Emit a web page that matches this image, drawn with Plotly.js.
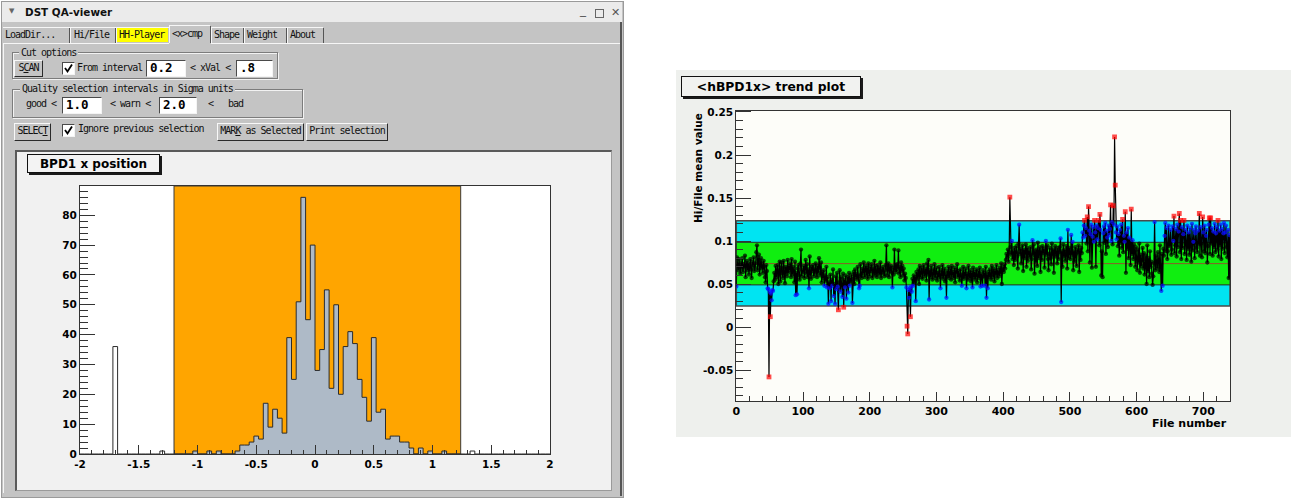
<!DOCTYPE html>
<html><head><meta charset="utf-8">
<script src="https://cdn.plot.ly/plotly-3.0.1.min.js"></script>
<style>
body{margin:0;width:1291px;height:499px;overflow:hidden;background:#fff;position:relative;}
.a{position:absolute;}
.t{position:absolute;font-family:'DejaVu Sans Mono',monospace;font-size:10px;letter-spacing:-1px;color:#111;white-space:nowrap;line-height:12px;}
.btn{position:absolute;background:#c4c4c4;border:1px solid;border-color:#f8f8f8 #2a2a2a #2a2a2a #f8f8f8;box-sizing:border-box;font-family:'DejaVu Sans Mono',monospace;font-size:10px;letter-spacing:-1px;text-align:center;line-height:14px;color:#111;white-space:nowrap;}
.inp{position:absolute;background:#fff;border:1px solid;border-color:#4a4a4a #f4f4f4 #f4f4f4 #4a4a4a;box-sizing:border-box;font-family:'DejaVu Sans Mono',monospace;font-size:12.5px;font-weight:bold;line-height:14px;padding-left:3px;color:#000;}
.chk{position:absolute;width:11px;height:11px;background:#fff;border:1px solid;border-color:#4a4a4a #f4f4f4 #f4f4f4 #4a4a4a;}
.grp{position:absolute;border:1px solid #7c7c7c;box-shadow:inset 1px 1px 0 #f2f2f2,1px 1px 0 #f2f2f2;box-sizing:border-box;}
.sep{position:absolute;width:1px;background:#555;}
.lt{position:absolute;background:#f6f6f6;}
#plot{position:absolute;left:0;top:0;width:1291px;height:499px;}
</style></head>
<body>
<!-- window chrome -->
<div class="a" style="left:1px;top:1px;width:621px;height:495px;background:#c4c4c4;border:1px solid #9a9a9a;"></div>
<div class="a" style="left:2px;top:2px;width:620px;height:20px;background:#ebebeb;"></div>
<div class="a" style="left:9px;top:7px;font:7px 'DejaVu Sans';color:#666;">▼</div>
<div class="a" style="left:25px;top:6px;font:bold 10.4px 'DejaVu Sans';color:#111;white-space:nowrap;">DST QA-viewer</div>
<div class="a" style="left:580px;top:3px;font:12px 'DejaVu Sans';color:#555;">_</div>
<div class="a" style="left:595px;top:9px;width:7px;height:7px;border:1px solid #666;"></div>
<div class="a" style="left:611px;top:6px;font:11px 'DejaVu Sans';color:#555;">✕</div>
<div class="a" style="left:620px;top:22px;width:2px;height:474px;background:#555;"></div>

<!-- tabs -->
<div class="lt" style="left:3px;top:43px;width:166px;height:1px;"></div>
<div class="lt" style="left:211px;top:43px;width:409px;height:1px;"></div>
<div class="lt" style="left:3px;top:27px;width:166px;height:1px;"></div>
<div class="lt" style="left:169px;top:25px;width:41px;height:1px;"></div>
<div class="lt" style="left:169px;top:25px;width:1px;height:18px;"></div>
<div class="lt" style="left:211px;top:27px;width:112px;height:1px;"></div>
<div class="sep" style="left:69px;top:28px;height:15px;"></div><div class="lt" style="left:70px;top:28px;width:1px;height:15px;"></div>
<div class="sep" style="left:115px;top:28px;height:15px;"></div><div class="lt" style="left:116px;top:28px;width:1px;height:15px;"></div>
<div class="sep" style="left:210px;top:26px;height:17px;"></div><div class="lt" style="left:211px;top:28px;width:1px;height:15px;"></div>
<div class="sep" style="left:243px;top:28px;height:15px;"></div><div class="lt" style="left:244px;top:28px;width:1px;height:15px;"></div>
<div class="sep" style="left:286px;top:28px;height:15px;"></div><div class="lt" style="left:287px;top:28px;width:1px;height:15px;"></div>
<div class="sep" style="left:323px;top:28px;height:15px;"></div>
<div class="a" style="left:117px;top:28px;width:51px;height:14px;background:#ffff00;"></div>
<div class="t" style="left:5px;top:29px;">LoadDir...</div>
<div class="t" style="left:74px;top:29px;">Hi/File</div>
<div class="t" style="left:119px;top:29px;">HH-Player</div>
<div class="t" style="left:172px;top:28px;">&lt;x&gt;cmp</div>
<div class="t" style="left:214px;top:29px;">Shape</div>
<div class="t" style="left:247px;top:29px;">Weight</div>
<div class="t" style="left:290px;top:29px;">About</div>
<div class="lt" style="left:3px;top:43px;width:1px;height:450px;"></div>

<!-- cut options -->
<div class="grp" style="left:12px;top:52px;width:266px;height:27px;"></div>
<div class="t" style="left:19px;top:47px;background:#c4c4c4;padding:0 2px;">Cut options</div>
<div class="btn" style="left:14px;top:60px;width:29px;height:17px;">S<u>C</u>AN</div>
<div class="chk" style="left:62px;top:62px;"><svg width="11" height="11" style="position:absolute;left:0;top:0"><path d="M2 5 L4.5 8.5 L9 1.5" stroke="#000" stroke-width="1.8" fill="none"/></svg></div>
<div class="t" style="left:77px;top:62px;">From  interval</div>
<div class="inp" style="left:146px;top:60px;width:40px;height:17px;">0.2</div>
<div class="t" style="left:190px;top:62px;">&lt; xVal &lt;</div>
<div class="inp" style="left:236px;top:60px;width:37px;height:17px;">.8</div>

<!-- quality -->
<div class="grp" style="left:12px;top:89px;width:291px;height:29px;"></div>
<div class="t" style="left:20px;top:83px;background:#c4c4c4;padding:0 2px;">Quality selection intervals in Sigma units</div>
<div class="t" style="left:26px;top:98px;">good &lt;</div>
<div class="inp" style="left:62px;top:97px;width:40px;height:17px;">1.0</div>
<div class="t" style="left:110px;top:98px;">&lt; warn &lt;</div>
<div class="inp" style="left:159px;top:97px;width:38px;height:17px;">2.0</div>
<div class="t" style="left:208px;top:98px;">&lt;</div>
<div class="t" style="left:228px;top:98px;">bad</div>

<!-- row 3 -->
<div class="btn" style="left:14px;top:123px;width:37px;height:18px;">SELEC<u>T</u></div>
<div class="chk" style="left:62px;top:124px;"><svg width="11" height="11" style="position:absolute;left:0;top:0"><path d="M2 5 L4.5 8.5 L9 1.5" stroke="#000" stroke-width="1.8" fill="none"/></svg></div>
<div class="t" style="left:78px;top:123px;">Ignore previous selection</div>
<div class="btn" style="left:217px;top:123px;width:87px;height:18px;">MAR<u>K</u> as Selected</div>
<div class="btn" style="left:306px;top:123px;width:82px;height:18px;">Print selection</div>

<!-- canvas -->
<div class="a" style="left:15px;top:150px;width:594px;height:338px;background:#f1f1f1;border-top:2px solid #5a5a5a;border-left:2px solid #5a5a5a;border-right:1px solid #9a9a9a;border-bottom:1px solid #9a9a9a;"></div>

<!-- right panel -->
<div class="a" style="left:676px;top:70px;width:615px;height:367px;background:#eef0ed;"></div>

<div id="plot"></div>
<script>
// ---------- histogram: BPD1 x position ----------
const histMin = -2;
const binWidth = 0.04;
const histCounts = [
  0,0,0,0,0,0,0,36,0,0,
  0,0,0,0,0,0,0,1,0,0,
  0,0,0,0,1,0,0,1,0,1,
  0,0,0,1,3,3,4,6,5,17,
  9,15,12,7,39,25,51,86,45,70,
  28,35,55,22,50,20,36,41,37,25,
  19,11,39,14,15,5,6,6,4,4,
  2,0,2,0,1,0,0,1,0,0,
  0,0,0,1,0,0,0,0,0,0,
  0,0,0,0,0,0,0,0,0,0
];
const cutRange = [-1.2, 1.24];
const histXTicks = [-2,-1.5,-1,-0.5,0,0.5,1,1.5,2];
const histXTickText = ['-2','-1.5','-1','-0.5','0','0.5','1','1.5','2'];
const histYTicks = [0,10,20,30,40,50,60,70,80];

// ---------- trend plot: <hBPD1x> mean per file ----------
const fileMeans = [
 .047,.081,.072,.066,.079,.070,.062,.075,.068,.080,.064,.073,.069,.083,.058,.071,.077,.066,.074,.061,
 .070,.079,.067,.057,.076,.072,.081,.065,.069,.074,.087,.095,.066,.078,.084,.061,.075,.080,.068,.073,
 .063,.077,.070,.058,.052,.072,.065,.045,.044,-.058,.041,.012,.039,.031,.043,.042,.053,.063,.055,.071,
 .058,.066,.072,.050,.061,.076,.053,.069,.075,.062,.057,.077,.064,.051,.070,.068,.059,.078,.063,.071,
 .066,.074,.058,.079,.061,.070,.065,.052,.076,.037,.063,.038,.068,.072,.060,.055,.074,.090,.059,.066,
 .064,.071,.057,.069,.078,.062,.073,.058,.067,.045,.082,.063,.056,.070,.065,.072,.059,.068,.062,.074,
 .066,.058,.071,.063,.080,.069,.060,.075,.052,.064,.057,.066,.048,.060,.054,.070,.046,.058,.027,.052,
 .045,.061,.030,.055,.048,.067,.036,.050,.027,.059,.044,.063,.047,.020,.052,.066,.041,.058,.049,.035,
 .062,.023,.055,.046,.060,.033,.051,.058,.040,.063,.048,.057,.053,.061,.028,.056,.064,.050,.067,.058,
 .062,.055,.070,.059,.045,.048,.073,.061,.057,.068,.063,.075,.058,.066,.071,.060,.069,.056,.074,.064,
 .059,.070,.065,.073,.057,.068,.062,.077,.060,.071,.066,.058,.072,.063,.069,.061,.075,.057,.067,.064,
 .070,.062,.059,.066,.072,.095,.060,.068,.074,.058,.070,.065,.071,.063,.046,.069,.061,.090,.066,.072,
 .064,.073,.068,.089,.062,.070,.058,.075,.065,.071,.060,.068,.054,.062,.057,.046,.001,-.008,.043,.034,
 .045,.012,.047,.041,.056,.048,.060,.052,.058,.030,.064,.055,.061,.067,.050,.071,.058,.063,.069,.056,
 .065,.072,.059,.063,.068,.054,.074,.061,.078,.032,.066,.058,.071,.062,.055,.067,.060,.073,.057,.064,
 .069,.054,.063,.058,.070,.061,.045,.066,.059,.072,.056,.063,.068,.053,.061,.034,.065,.059,.070,.057,
 .063,.068,.055,.071,.060,.064,.057,.069,.052,.066,.062,.073,.058,.065,.060,.054,.067,.061,.048,.059,
 .070,.056,.064,.059,.068,.045,.062,.055,.071,.060,.057,.066,.053,.063,.046,.069,.058,.064,.055,.061,
 .067,.052,.060,.065,.057,.069,.047,.062,.058,.048,.066,.059,.063,.048,.070,.034,.061,.045,.064,.058,
 .067,.060,.055,.071,.062,.058,.068,.053,.065,.061,.072,.057,.066,.063,.059,.069,.062,.074,.050,.066,
 .070,.064,.073,.068,.078,.085,.081,.090,.076,.087,.151,.093,.084,.100,.079,.088,.072,.092,.078,.087,
 .094,.082,.068,.097,.119,.085,.091,.074,.088,.095,.065,.090,.080,.087,.096,.070,.092,.077,.089,.086,
 .081,.093,.067,.079,.101,.084,.096,.062,.088,.076,.090,.071,.098,.080,.087,.093,.064,.089,.078,.094,
 .086,.091,.069,.088,.100,.084,.095,.079,.066,.085,.092,.080,.073,.097,.083,.090,.063,.088,.094,.082,
 .089,.074,.092,.079,.087,.093,.103,.029,.088,.070,.096,.082,.090,.077,.087,.094,.068,.113,.080,.092,
 .086,.079,.107,.084,.099,.066,.088,.076,.093,.085,.071,.090,.087,.095,.064,.089,.078,.092,.086,.110,
 .104,.118,.124,.106,.115,.097,.128,.088,.140,.112,.075,.108,.119,.069,.105,.116,.099,.124,.110,.070,
 .118,.102,.115,.124,.095,.131,.113,.060,.088,.058,.109,.117,.098,.121,.085,.112,.104,.093,.118,.107,
 .114,.142,.100,.122,.096,.141,.119,.221,.165,.110,.102,.117,.094,.108,.083,.113,.098,.119,.092,.125,
 .087,.106,.099,.134,.063,.110,.091,.115,.080,.104,.094,.072,.137,.085,.101,.079,.096,.088,.070,.093,
 .081,.066,.090,.075,.097,.063,.084,.071,.078,.092,.068,.086,.061,.079,.083,.050,.095,.065,.080,.058,
 .088,.070,.076,.062,.049,.059,.074,.122,.066,.083,.071,.068,.087,.077,.064,.095,.072,.042,.085,.048,
 .091,.083,.106,.121,.088,.115,.079,.088,.118,.094,.096,.113,.084,.090,.117,.100,.129,.086,.095,.114,
 .082,.119,.093,.111,.132,.087,.124,.079,.116,.092,.108,.124,.085,.113,.097,.078,.118,.091,.110,.084,
 .115,.094,.076,.120,.089,.099,.113,.080,.109,.117,.092,.087,.112,.096,.132,.083,.116,.097,.081,.128,
 .110,.088,.118,.086,.106,.113,.075,.094,.119,.127,.085,.127,.097,.115,.083,.111,.093,.120,.087,.109,
 .116,.090,.124,.082,.112,.095,.119,.079,.114,.091,.109,.121,.086,.110,.118,.093,.081,.113,.057,.107,
 .058
];
const goodBand = [0.049, 0.0985];
const warnBand = [0.0245, 0.1235];
const bandMean = 0.0737;
const trendXTicks = [0,100,200,300,400,500,600,700];
const trendYTicks = [-0.05,0,0.05,0.1,0.15,0.2,0.25];
const trendYTickText = ['-0.05','0','0.05','0.1','0.15','0.2','0.25'];

// ---------- build ----------
const W = 1291, H = 499;
const px = x => x / W, py = y => 1 - y / H;

const binCenters = histCounts.map((c, i) => histMin + binWidth * (i + 0.5));
const barColors = binCenters.map(x => (x > cutRange[0] && x < cutRange[1]) ? '#aebac7' : '#ffffff');
const stepX = [histMin], stepY = [0];
histCounts.forEach((c, i) => { stepX.push(histMin + binWidth * i); stepY.push(c); });
stepX.push(histMin + binWidth * histCounts.length); stepY.push(0);

const fileNumbers = fileMeans.map((v, i) => i);
const ptColor = fileMeans.map(v => (v >= goodBand[0] && v <= goodBand[1]) ? '#000000'
  : (v >= warnBand[0] && v <= warnBand[1]) ? '#0a0aff' : '#ff0000');
const ptSymbol = ptColor.map(c => c === '#ff0000' ? 'square' : 'circle');
const ptSize = ptColor.map(c => c === '#ff0000' ? 4.8 : 4.3);

const tickFontL = {family: 'DejaVu Sans', size: 10.5, weight: 'bold', color: '#000'};
const tickFontR = {family: 'DejaVu Sans', size: 10.5, weight: 'bold', color: '#000'};

const traces = [
  {type: 'bar', x: binCenters, y: histCounts, width: binWidth, xaxis: 'x', yaxis: 'y',
   marker: {color: barColors, line: {width: 0}}, hoverinfo: 'skip', showlegend: false},
  {type: 'scatter', mode: 'lines', x: stepX, y: stepY, xaxis: 'x', yaxis: 'y',
   line: {color: '#2b2b2b', width: 1, shape: 'hv'}, hoverinfo: 'skip', showlegend: false},
  {type: 'scatter', mode: 'lines+markers', x: fileNumbers, y: fileMeans, xaxis: 'x2', yaxis: 'y2',
   line: {color: '#000', width: 1.2},
   marker: {color: ptColor, symbol: ptSymbol, size: ptSize, line: {width: 0}},
   hoverinfo: 'skip', showlegend: false}
];

const axBase = {showline: true, linecolor: '#333', linewidth: 1, mirror: true, ticks: 'inside',
  tickcolor: '#333', tickwidth: 1, showgrid: false, zeroline: false, tickmode: 'array', automargin: false};

const layout = {
  width: W, height: H, margin: {l: 0, r: 0, t: 0, b: 0, autoexpand: false},
  paper_bgcolor: 'rgba(0,0,0,0)', plot_bgcolor: '#ffffff', bargap: 0,
  xaxis: Object.assign({}, axBase, {domain: [px(80), px(550)], range: [-2, 2], anchor: 'y',
    tickvals: histXTicks, ticktext: histXTickText, ticklen: 9, tickfont: tickFontL,
    minor: {tickmode: 'linear', tick0: -2, dtick: 0.1, ticks: 'inside', ticklen: 4.5, tickcolor: '#333', showgrid: false}}),
  yaxis: Object.assign({}, axBase, {domain: [py(454), py(186)], range: [0, 89.8], anchor: 'x',
    tickvals: histYTicks, ticklen: 15, tickfont: tickFontL,
    minor: {tickmode: 'linear', tick0: 0, dtick: 2, ticks: 'inside', ticklen: 7.5, tickcolor: '#333', showgrid: false}}),
  xaxis2: Object.assign({}, axBase, {domain: [px(736.3), px(1230)], range: [0, 740], anchor: 'y2',
    tickvals: trendXTicks, ticklen: 9, tickfont: {family: 'DejaVu Sans', size: 11, weight: 'bold', color: '#000'},
    minor: {tickmode: 'linear', tick0: 0, dtick: 20, ticks: 'inside', ticklen: 5, tickcolor: '#333', showgrid: false}}),
  yaxis2: Object.assign({}, axBase, {domain: [py(401), py(110.7)], range: [-0.086, 0.2515], anchor: 'x2',
    tickvals: trendYTicks, ticktext: trendYTickText, ticklen: 15, tickfont: tickFontR,
    minor: {tickmode: 'linear', tick0: 0, dtick: 0.01, ticks: 'inside', ticklen: 7, tickcolor: '#333', showgrid: false}}),
  shapes: [
    {type: 'rect', xref: 'x', yref: 'y domain', x0: cutRange[0], x1: cutRange[1], y0: 0, y1: 1,
     fillcolor: '#ffa500', line: {color: '#3a3a3a', width: 1}, layer: 'below'},
    {type: 'rect', xref: 'x2 domain', yref: 'y2 domain', x0: 0, x1: 1, y0: 0, y1: 1,
     fillcolor: '#fdfdf9', line: {width: 0}, layer: 'below'},
    {type: 'rect', xref: 'x2 domain', yref: 'y2', x0: 0, x1: 1, y0: warnBand[0], y1: warnBand[1],
     fillcolor: '#00e4f2', line: {color: '#4a4a4a', width: 1.5}, layer: 'below'},
    {type: 'rect', xref: 'x2 domain', yref: 'y2', x0: 0, x1: 1, y0: goodBand[0], y1: goodBand[1],
     fillcolor: '#10ee10', line: {color: '#2a2a2a', width: 1}, layer: 'below'},
    {type: 'line', xref: 'x2 domain', yref: 'y2', x0: 0, x1: 1, y0: bandMean, y1: bandMean,
     line: {color: '#8c5a2a', width: 1}, layer: 'below'},
    {type: 'rect', xref: 'paper', yref: 'paper', x0: px(29), x1: px(162), y0: py(175), y1: py(156),
     fillcolor: '#1a1a1a', line: {width: 0}},
    {type: 'rect', xref: 'paper', yref: 'paper', x0: px(683), x1: px(863), y0: py(99), y1: py(78),
     fillcolor: '#1a1a1a', line: {width: 0}}
  ],
  annotations: [
    {xref: 'paper', yref: 'paper', x: px(27), y: py(154), xanchor: 'left', yanchor: 'top',
     text: 'BPD1 x position', showarrow: false, width: 131, height: 17, borderpad: 0, borderwidth: 1,
     bordercolor: '#111', bgcolor: '#f3f3f3', align: 'center',
     font: {family: 'DejaVu Sans', size: 12, weight: 'bold', color: '#000'}},
    {xref: 'paper', yref: 'paper', x: px(681), y: py(76), xanchor: 'left', yanchor: 'top',
     text: '&lt;hBPD1x&gt; trend plot', showarrow: false, width: 178, height: 19, borderpad: 0, borderwidth: 1,
     bordercolor: '#111', bgcolor: '#f1f2f0', align: 'center',
     font: {family: 'DejaVu Sans', size: 12.3, weight: 'bold', color: '#000'}},
    {xref: 'paper', yref: 'paper', x: px(698), y: py(111), xanchor: 'center', yanchor: 'top',
     text: 'Hi/File mean value', textangle: -90, showarrow: false,
     font: {family: 'DejaVu Sans', size: 10.5, weight: 'bold', color: '#000'}},
    {xref: 'paper', yref: 'paper', x: px(1229), y: py(415), xanchor: 'right', yanchor: 'top',
     text: 'File number', showarrow: false,
     font: {family: 'DejaVu Sans', size: 11, weight: 'bold', color: '#000'}}
  ]
};

Plotly.newPlot('plot', traces, layout, {staticPlot: true, displayModeBar: false});
</script>
</body></html>
